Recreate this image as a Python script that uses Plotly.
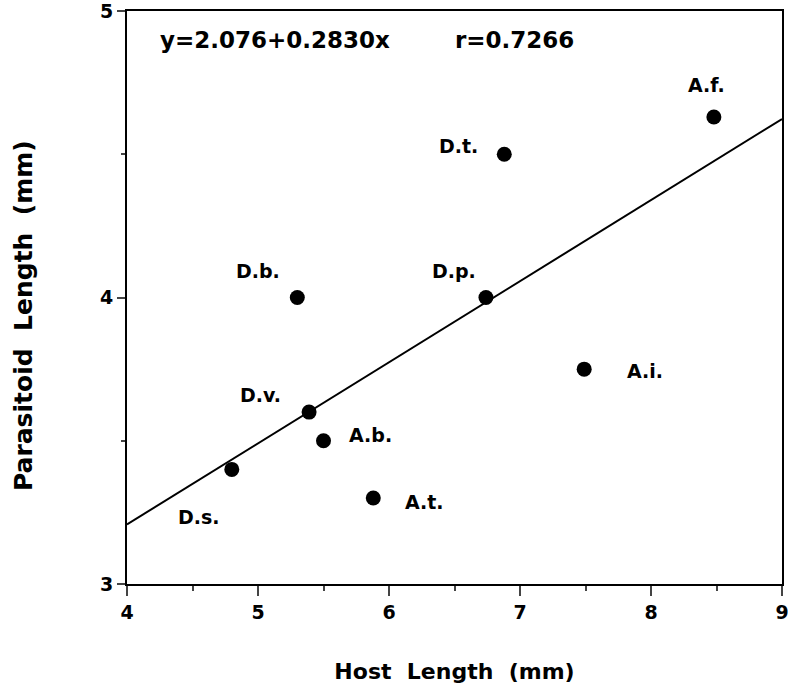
import plotly.graph_objects as go

species = ["A.f.", "D.t.", "D.b.", "D.p.", "A.i.", "D.v.", "A.b.", "D.s.", "A.t."]
host_len = [8.48, 6.88, 5.30, 6.74, 7.49, 5.39, 5.50, 4.80, 5.88]
para_len = [4.63, 4.50, 4.00, 4.00, 3.75, 3.60, 3.50, 3.40, 3.30]
# label offsets in pixels (dx, dy) relative to each point
label_dx = [-7, -46, -39, -32, 61, -49, 47, -33, 51]
label_dy = [-32, -8, -27, -27, 2, -17, -6, 48, 4]

intercept = 2.076
slope = 0.2830
fit_x = [4, 9]
fit_y = [intercept + slope * v for v in fit_x]

x_ticks = [4, 5, 6, 7, 8, 9]
y_ticks = [3, 4, 5]

x_title = "Host\u00a0\u00a0Length\u00a0\u00a0(mm)"
y_title = "Parasitoid\u00a0\u00a0Length\u00a0\u00a0(mm)"

FONT = "DejaVu Sans, Liberation Sans, Arial, sans-serif"

fig = go.Figure()
fig.add_trace(go.Scatter(x=fit_x, y=fit_y, mode="lines",
                         line=dict(color="black", width=2), hoverinfo="skip"))
fig.add_trace(go.Scatter(x=host_len, y=para_len, mode="markers",
                         marker=dict(color="black", size=15)))

for s, xv, yv, dx, dy in zip(species, host_len, para_len, label_dx, label_dy):
    fig.add_annotation(x=xv, y=yv, text="<b>%s</b>" % s, showarrow=True,
                       arrowcolor="rgba(0,0,0,0)", ax=dx, ay=dy,
                       font=dict(family=FONT, size=19, color="black"))

fig.add_annotation(x=0.226, y=0.949, xref="paper", yref="paper",
                   xanchor="center", yanchor="middle",
                   text="<b>y=2.076+0.2830x</b>", showarrow=False,
                   font=dict(family=FONT, size=23, color="black"))
fig.add_annotation(x=0.592, y=0.949, xref="paper", yref="paper",
                   xanchor="center", yanchor="middle",
                   text="<b>r=0.7266</b>", showarrow=False,
                   font=dict(family=FONT, size=23, color="black"))

# y-axis title (placed as annotation: it sits below the axis centre in the original)
fig.add_annotation(x=-0.159, y=0.469, xref="paper", yref="paper",
                   xanchor="center", yanchor="middle", textangle=-90,
                   text="<b>%s</b>" % y_title, showarrow=False,
                   font=dict(family=FONT, size=25, color="black"))

fig.update_layout(
    width=788, height=693,
    margin=dict(l=127, r=6, t=11, b=109, autoexpand=False),
    paper_bgcolor="white", plot_bgcolor="white",
    showlegend=False,
    font=dict(family=FONT, color="black"),
)
fig.update_xaxes(
    range=[4, 9], tickmode="array", tickvals=x_ticks,
    ticktext=["<b>%d</b>" % v for v in x_ticks],
    tickfont=dict(size=19, family=FONT), ticks="outside", ticklen=10, tickwidth=2,
    ticklabeloverflow="allow",
    minor=dict(tickvals=[4.5, 5.5, 6.5, 7.5, 8.5], ticks="outside", ticklen=5, tickwidth=2),
    showline=True, linecolor="black", linewidth=2, mirror=True,
    showgrid=False, zeroline=False, automargin=False,
    title=dict(text="<b>%s</b>" % x_title, font=dict(size=22, family=FONT), standoff=42),
)
fig.update_yaxes(
    range=[3, 5], tickmode="array", tickvals=y_ticks,
    ticktext=["<b>%d</b>" % v for v in y_ticks],
    tickfont=dict(size=19, family=FONT), ticks="outside", ticklen=8, tickwidth=2,
    ticklabeloverflow="allow",
    minor=dict(tickvals=[3.5, 4.5], ticks="outside", ticklen=4, tickwidth=2),
    showline=True, linecolor="black", linewidth=2, mirror=True,
    showgrid=False, zeroline=False, automargin=False,
)

fig.write_html("out.html", config={"displayModeBar": False},
               post_script="document.body.style.margin='0';")
